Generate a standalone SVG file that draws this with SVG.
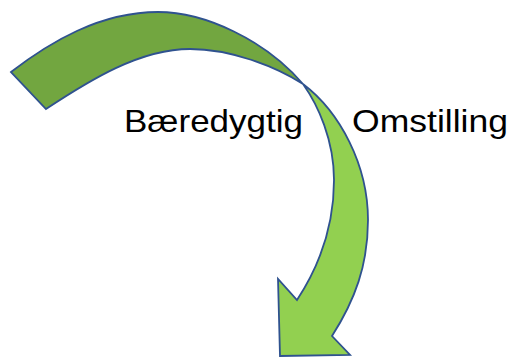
<svg xmlns="http://www.w3.org/2000/svg" width="514" height="357" viewBox="0 0 514 357">
  <style>
    .band { stroke: #2F528F; stroke-width: 1.8; stroke-linejoin: miter; }
    .back { fill: #72A640; }
    .front { fill: #92D050; }
    .label { font-family: "Liberation Sans", Arial, sans-serif; font-size: 32px; fill: #000000; }
  </style>
  <rect width="514" height="357" fill="#FFFFFF"/>
  <g id="curved-arrow">
    <path class="band front" d="M303,84 C340,112 368,165 368,220 C368,265 355,300 332,336 L350,355 L280,356 L278,279 L297,300 C320,265 334,225 334,180 C334,140 318,105 303,84 Z"/>
    <path class="band back" d="M11,72 C50,42 100,12 158,12 C205,12 265,40 303,84 C275,66 230,49 190,49 C140,49 90,80 46,109 Z"/>
  </g>
  <g id="label-baeredygtig">
    <text class="label" x="124" y="132" textLength="179" lengthAdjust="spacingAndGlyphs">Bæredygtig</text>
  </g>
  <g id="label-omstilling">
    <text class="label" x="352" y="132" textLength="156" lengthAdjust="spacingAndGlyphs">Omstilling</text>
  </g>
</svg>
